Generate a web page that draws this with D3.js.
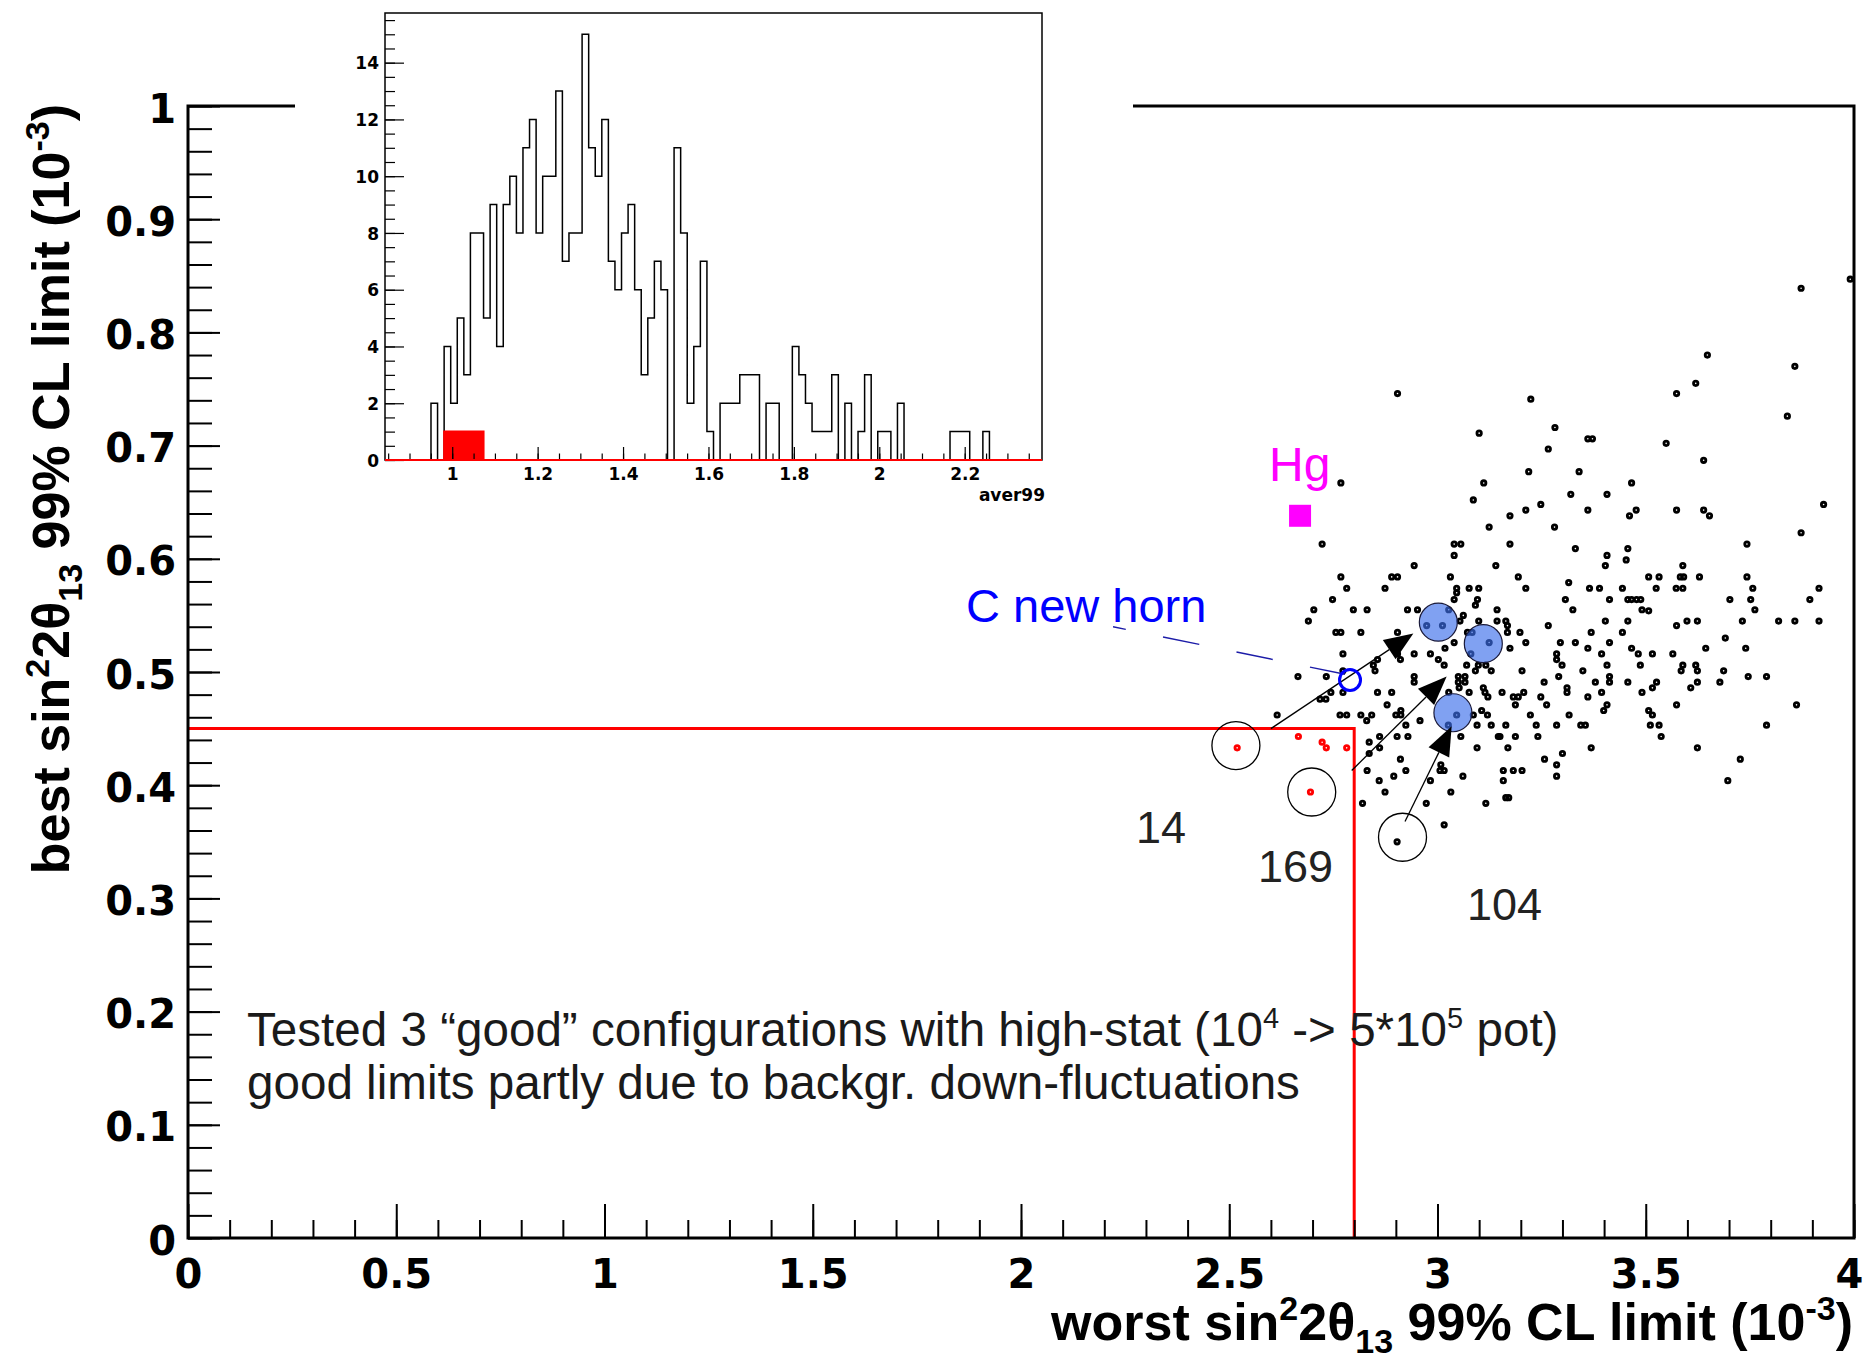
<!DOCTYPE html>
<html>
<head>
<meta charset="utf-8">
<title>worst vs best sin2 2theta13 limit</title>
<script src="https://cdn.jsdelivr.net/npm/d3@7"></script>
<style>
body { margin:0; background:#fff; }
</style>
</head>
<body>
<div id="chart"></div>
<script>
// each configuration: [worst limit, best limit], both in 1e-3
var configs = [
  [2.768,.667],[3.111,.667],[3.086,.652],[3.124,.628],[2.723,.613],[3.040,.613],[3.056,.613],[3.040,.603],[2.944,.594],[3.140,.594],
  [2.768,.584],[2.890,.584],[2.904,.584],[3.031,.584],[2.782,.574],[2.874,.574],[3.046,.574],[3.076,.574],[3.099,.574],[3.046,.570],
  [2.748,.564],[3.040,.564],[3.096,.564],[3.091,.559],[2.703,.555],[2.798,.555],[2.831,.555],[2.928,.555],[2.952,.555],[3.143,.555],
  [2.690,.545],[3.062,.550],[3.054,.545],[3.099,.545],[3.143,.545],[3.027,.555],[2.974,.541],[3.012,.541],[2.756,.535],[2.768,.535],
  [2.816,.535],[2.904,.535],[3.072,.535],[3.040,.526],[3.018,.521],[2.773,.516],[2.904,.516],[2.944,.516],[2.983,.516],[3.083,.535],
  [3.124,.526],[3.080,.516],[2.856,.511],[2.911,.511],[3.002,.511],[3.016,.506],[3.070,.506],[2.846,.506],[2.850,.501],[3.098,.506],
  [3.116,.506],[3.091,.501],[3.129,.501],[2.665,.496],[2.733,.496],[2.944,.496],[2.944,.491],[3.050,.496],[3.066,.496],[3.050,.491],
  [3.066,.491],[3.052,.486],[3.110,.486],[2.744,.482],[2.773,.482],[2.856,.482],[2.890,.482],[3.027,.482],[3.076,.482],[3.114,.482],
  [3.121,.478],[2.773,.501],[2.718,.476],[2.732,.476],
  [3.549,.702],[3.266,.697],[3.639,.687],[3.219,.677],[3.340,.677],[3.466,.667],[3.320,.657],[3.407,.657],[3.248,.648],[3.212,.643],
  [3.361,.643],[3.477,.643],[3.461,.638],[3.574,.643],[3.639,.643],[3.653,.638],[3.174,.638],[3.281,.628],[3.174,.613],[3.743,.613],
  [3.331,.609],[3.457,.609],[3.407,.603],[3.453,.599],[3.403,.594],[3.589,.594],[3.194,.584],[3.507,.584],[3.532,.584],[3.583,.584],
  [3.591,.584],[3.629,.584],[3.743,.584],[3.315,.579],[3.212,.574],[3.365,.574],[3.389,.574],[3.444,.574],[3.525,.574],[3.573,.574],
  [3.589,.574],[3.307,.564],[3.413,.564],[3.457,.564],[3.466,.564],[3.478,.564],[3.488,.564],[3.702,.564],[3.325,.555],[3.491,.555],
  [3.507,.554],[3.403,.545],[3.457,.545],[3.599,.545],[3.624,.545],[3.732,.545],[3.266,.541],[3.574,.541],[3.164,.545],[3.168,.541],
  [3.168,.535],[3.198,.535],[3.369,.535],[3.444,.535],[3.691,.530],[3.212,.526],[3.295,.526],[3.331,.526],[3.413,.526],[3.174,.521],
  [3.361,.521],[3.466,.521],[3.644,.521],[3.740,.521],[3.286,.516],[3.394,.516],[3.482,.516],[3.516,.516],[3.565,.516],[3.286,.511],
  [3.299,.506],[3.407,.506],[3.487,.506],[3.589,.506],[3.620,.506],[3.203,.501],[3.349,.501],[3.585,.501],[3.624,.501],[3.687,.501],
  [3.291,.496],[3.413,.496],[3.746,.496],[3.256,.491],[3.379,.491],[3.413,.491],[3.457,.491],[3.526,.491],[3.624,.491],[3.678,.491],
  [3.311,.486],[3.311,.482],[3.516,.486],[3.608,.486],[3.155,.482],[3.207,.482],[3.394,.482],[3.491,.482],[3.182,.478],[3.194,.478],
  [3.248,.478],[3.361,.478],
  [3.187,.471],[3.262,.471],[3.407,.471],[3.399,.466],[3.507,.466],[3.516,.462],[3.574,.471],[3.862,.471],[3.223,.462],[3.316,.462],
  [3.164,.453],[3.237,.453],[3.286,.453],[3.344,.453],[3.355,.453],[3.511,.453],[3.532,.453],[3.790,.453],[3.150,.443],[3.187,.443],
  [3.241,.443],[3.537,.443],[3.169,.433],[3.369,.433],[3.624,.433],[3.300,.428],[3.257,.423],[3.727,.423],[3.286,.418],[3.158,.413],
  [3.182,.413],[3.203,.413],[3.286,.408],[3.158,.404],[3.697,.404],[3.164,.389],[3.171,.389],
  [3.991,.847],[3.873,.839],[3.648,.780],[3.858,.770],[3.840,.726],[3.927,.648],[3.873,.623],[3.757,.574],[3.916,.574],[3.752,.564],
  [3.894,.564],[3.762,.555],[3.819,.545],[3.858,.545],[3.916,.545],[3.790,.496],
  [2.904,.746],[3.224,.741],[3.574,.746],[3.620,.755],[3.100,.711],[3.282,.716],[3.361,.706],[3.372,.706],
  [2.615,.462],[2.766,.462],[2.782,.462],[2.816,.462],[2.830,.457],[2.842,.462],[2.879,.471],[2.900,.462],[2.912,.462],[2.912,.466],
  [2.958,.457],[2.924,.453],[2.861,.443],[2.903,.443],[2.929,.443],[2.836,.438],[2.861,.433],[2.836,.428],[2.911,.423],[2.831,.413],
  [2.924,.413],[2.895,.408],[2.860,.404],[2.874,.394],[2.820,.384],[2.973,.384],[2.983,.404],[3.008,.418],[3.006,.413],[3.016,.413],
  [3.032,.394],[3.061,.408],[3.016,.365],[3.116,.384],[2.903,.350],[3.056,.443],[3.095,.433],[3.095,.453],[3.129,.453],[3.120,.462],
  [3.106,.466],[3.086,.462],[3.146,.443],[3.046,.462],[3.026,.453]
];
// configurations inside the cut (drawn red)
var passing = [[2.519,.433],[2.666,.443],[2.723,.438],[2.733,.433],[2.782,.433],[2.695,.394]];
var cutWorst = 2.8, cutBest = 0.45;

var hgPoint = [2.670, 0.638];
var newHorn = [2.790, 0.493];
var hornLink = [[2.221, 0.540], [2.778, 0.498]];
var highStat = [[3.002, 0.544], [3.110, 0.525], [3.037, 0.464]];
var circled = [[2.516, 0.435], [2.698, 0.394], [2.916, 0.354]];
var circledIds = ["14", "169", "104"];
var arrows = [
  [[2.600, 0.450], [2.942, 0.534]],
  [[2.794, 0.413], [3.022, 0.496]],
  [[2.922, 0.368], [3.034, 0.452]]
];

var xTickValues = [0, 0.5, 1, 1.5, 2, 2.5, 3, 3.5, 4];
var yTickValues = [0, 0.1, 0.2, 0.3, 0.4, 0.5, 0.6, 0.7, 0.8, 0.9, 1];

// inset: aver99 histogram, 100 bins
var histMin = 0.8426, histMax = 2.381;
var histCounts = [
  0,0,0,0,0,0,0,2,0,4, 2,5,3,8,8,5,9,4,9,10, 8,11,12,8,10,10,13,7,8,8,
  15,11,10,12,7,6,8,9,6,3, 5,7,6,0,11,8,2,4,7,1, 0,2,2,2,3,3,3,0,2,2,
  0,0,4,3,2,1,1,1,3,0, 2,0,1,3,0,1,1,0,2,0, 0,0,0,0,0,0,1,1,1,0,
  0,1,0,0,0,0,0,0,0,0
];
var histSelected = [
  0,0,0,0,0,0,0,0,0,1, 1,1,1,1,1,0,0,0,0,0, 0,0,0,0,0,0,0,0,0,0,
  0,0,0,0,0,0,0,0,0,0, 0,0,0,0,0,0,0,0,0,0, 0,0,0,0,0,0,0,0,0,0,
  0,0,0,0,0,0,0,0,0,0, 0,0,0,0,0,0,0,0,0,0, 0,0,0,0,0,0,0,0,0,0,
  0,0,0,0,0,0,0,0,0,0
];
var histXTicks = [1, 1.2, 1.4, 1.6, 1.8, 2, 2.2];
var histYTicks = [0, 2, 4, 6, 8, 10, 12, 14];

var w = 1866, h = 1363;
var textFont = "'Liberation Sans', Arial, Helvetica, sans-serif";
var numFont = "'DejaVu Sans', sans-serif";

var svg = d3.select("#chart").append("svg")
    .attr("width", w).attr("height", h);

var x = d3.scaleLinear().domain([0, 4]).range([188, 1854]);
var y = d3.scaleLinear().domain([0, 1]).range([1238, 106]);

function fmt(d) { return String(+d.toFixed(2)); }

function addRich(sel, parts, base, small) {
  var cur = 0;
  parts.forEach(function(p) {
    var target = p[1] === "sup" ? -0.38 * base : (p[1] === "sub" ? 0.25 * base : 0);
    var ts = sel.append("tspan").text(p[0]).attr("dy", target - cur);
    if (p[1]) ts.attr("font-size", small);
    cur = target;
  });
}

// cut lines
svg.append("path")
   .attr("d", "M" + x(0) + "," + y(cutBest) + "H" + x(cutWorst) + "V" + y(0))
   .attr("fill", "none").attr("stroke", "#ff0000").attr("stroke-width", 3);

// minor ticks
svg.append("g").attr("transform", "translate(0,1238)")
   .call(d3.axisBottom(x).tickValues(d3.range(0, 4.001, 0.1)).tickSize(-18).tickFormat(""))
   .call(function(g) { g.select(".domain").remove(); g.selectAll("line").attr("stroke-width", 2); });
svg.append("g").attr("transform", "translate(188,0)")
   .call(d3.axisLeft(y).tickValues(d3.range(0, 1.001, 0.02)).tickSize(-24).tickFormat(""))
   .call(function(g) { g.select(".domain").remove(); g.selectAll("line").attr("stroke-width", 2); });

// major ticks + labels
svg.append("g").attr("transform", "translate(0,1238)")
   .call(d3.axisBottom(x).tickValues(xTickValues).tickSize(-34).tickFormat(fmt))
   .call(function(g) {
     g.select(".domain").remove();
     g.attr("font-family", numFont).attr("font-size", 40).attr("font-weight", "bold");
     g.selectAll("line").attr("stroke-width", 2);
     g.selectAll("text").attr("y", 50).attr("dy", null)
      .attr("dx", function(d) { return d === 4 ? -5 : null; });
   });
svg.append("g").attr("transform", "translate(188,0)")
   .call(d3.axisLeft(y).tickValues(yTickValues).tickSize(-32).tickPadding(12).tickFormat(fmt))
   .call(function(g) {
     g.select(".domain").remove();
     g.attr("font-family", numFont).attr("font-size", 40).attr("font-weight", "bold");
     g.selectAll("line").attr("stroke-width", 2);
     g.selectAll("text").attr("dy", "0.4em");
   });

// frame
svg.append("rect")
   .attr("x", x(0)).attr("y", y(1))
   .attr("width", x(4) - x(0)).attr("height", y(0) - y(1))
   .attr("fill", "none").attr("stroke", "#000").attr("stroke-width", 3);

// axis titles
var xt = svg.append("text")
   .attr("x", 1853).attr("y", 1340).attr("text-anchor", "end")
   .attr("font-family", textFont).attr("font-weight", "bold").attr("font-size", 52);
addRich(xt, [["worst sin"], ["2", "sup"], ["2\u03b8"], ["13", "sub"], [" 99% CL limit (10"], ["-3", "sup"], [")"]], 52, 34);

var yt = svg.append("text")
   .attr("transform", "translate(69,104) rotate(-90)").attr("text-anchor", "end")
   .attr("font-family", textFont).attr("font-weight", "bold").attr("font-size", 52);
addRich(yt, [["best sin"], ["2", "sup"], ["2\u03b8"], ["13", "sub"], [" 99% CL limit (10"], ["-3", "sup"], [")"]], 52, 34);

// scatter
svg.append("g").selectAll("circle").data(configs).join("circle")
   .attr("cx", function(d) { return x(d[0]); })
   .attr("cy", function(d) { return y(d[1]); })
   .attr("r", 2.2).attr("fill", "none").attr("stroke", "#000").attr("stroke-width", 2.8);

svg.append("g").selectAll("circle").data(passing).join("circle")
   .attr("cx", function(d) { return x(d[0]); })
   .attr("cy", function(d) { return y(d[1]); })
   .attr("r", 2.2).attr("fill", "none").attr("stroke", "#ff0000").attr("stroke-width", 2.8);

// high-stat results
svg.append("g").selectAll("circle").data(highStat).join("circle")
   .attr("cx", function(d) { return x(d[0]); })
   .attr("cy", function(d) { return y(d[1]); })
   .attr("r", 19)
   .attr("fill", "rgb(60,110,235)").attr("fill-opacity", 0.65)
   .attr("stroke", "#1a1a3a").attr("stroke-width", 1.2);

svg.append("g").selectAll("circle").data(circled).join("circle")
   .attr("cx", function(d) { return x(d[0]); })
   .attr("cy", function(d) { return y(d[1]); })
   .attr("r", 24).attr("fill", "none").attr("stroke", "#000").attr("stroke-width", 1.3);

// arrows
var ag = svg.append("g");
arrows.forEach(function(a) {
  var x1 = x(a[0][0]), y1 = y(a[0][1]), x2 = x(a[1][0]), y2 = y(a[1][1]);
  var len = Math.hypot(x2 - x1, y2 - y1), ux = (x2 - x1) / len, uy = (y2 - y1) / len;
  var bx = x2 - ux * 29, by = y2 - uy * 29;
  ag.append("line").attr("x1", x1).attr("y1", y1).attr("x2", bx).attr("y2", by)
    .attr("stroke", "#000").attr("stroke-width", 1.3);
  ag.append("path")
    .attr("d", "M" + x2 + "," + y2 + "L" + (bx - uy * 11.5) + "," + (by + ux * 11.5) +
               "L" + (bx + uy * 11.5) + "," + (by - ux * 11.5) + "Z")
    .attr("fill", "#000");
});

// C new horn
svg.append("line")
   .attr("x1", x(hornLink[0][0])).attr("y1", y(hornLink[0][1]))
   .attr("x2", x(hornLink[1][0])).attr("y2", y(hornLink[1][1]))
   .attr("stroke", "#1c1ca8").attr("stroke-width", 1.4)
   .attr("stroke-dasharray", "37,38").attr("stroke-dashoffset", 24);
svg.append("circle")
   .attr("cx", x(newHorn[0])).attr("cy", y(newHorn[1])).attr("r", 10.5)
   .attr("fill", "none").attr("stroke", "#0000ff").attr("stroke-width", 3);
svg.append("text").attr("x", 966).attr("y", 622)
   .attr("font-family", textFont).attr("font-size", 47).attr("fill", "#0000ff")
   .text("C new horn");

// Hg
svg.append("rect")
   .attr("x", x(hgPoint[0]) - 11).attr("y", y(hgPoint[1]) - 11)
   .attr("width", 22).attr("height", 22).attr("fill", "#ff00ff");
svg.append("text").attr("x", 1269).attr("y", 481)
   .attr("font-family", textFont).attr("font-size", 48).attr("fill", "#ff00ff")
   .text("Hg");

// config ids
var idPos = [[1136, 843], [1258, 882], [1467, 920]];
svg.append("g").selectAll("text").data(circledIds).join("text")
   .attr("x", function(d, i) { return idPos[i][0]; })
   .attr("y", function(d, i) { return idPos[i][1]; })
   .attr("font-family", textFont).attr("font-size", 45).attr("fill", "#222")
   .text(function(d) { return d; });

// note
var n1 = svg.append("text").attr("x", 247).attr("y", 1046)
   .attr("font-family", textFont).attr("font-size", 47.6).attr("fill", "#1a1a1a");
addRich(n1, [["Tested 3 \u201cgood\u201d configurations with high-stat (10"], ["4", "sup"], [" -> 5*10"], ["5", "sup"], [" pot)"]], 47.6, 29);
svg.append("text").attr("x", 247).attr("y", 1099)
   .attr("font-family", textFont).attr("font-size", 47.6).attr("fill", "#1a1a1a")
   .text("good limits partly due to backgr. down-fluctuations");

// ---- inset histogram ----
var inset = svg.append("g");
inset.append("rect").attr("x", 295).attr("y", 0).attr("width", 838).attr("height", 505).attr("fill", "#fff");

var hx = d3.scaleLinear().domain([histMin, histMax]).range([385, 1042]);
var hy = d3.scaleLinear().domain([0, 15.75]).range([460, 13]);
var binW = (histMax - histMin) / histCounts.length;

function stepData(counts) {
  var pts = [{e: histMin, c: 0}];
  counts.forEach(function(c, i) { pts.push({e: histMin + i * binW, c: c}); });
  pts.push({e: histMax, c: counts[counts.length - 1]});
  pts.push({e: histMax, c: 0});
  return pts;
}

inset.append("path")
   .attr("d", d3.line().curve(d3.curveStepAfter)
       .x(function(d) { return hx(d.e); }).y(function(d) { return hy(d.c); })(stepData(histCounts)))
   .attr("fill", "none").attr("stroke", "#000").attr("stroke-width", 1.5);

inset.append("path")
   .attr("d", d3.area().curve(d3.curveStepAfter)
       .x(function(d) { return hx(d.e); }).y0(hy(0)).y1(function(d) { return hy(d.c); })(stepData(histSelected)))
   .attr("fill", "#ff0000").attr("stroke", "#ff0000").attr("stroke-width", 2);

inset.append("g").attr("transform", "translate(0,460)")
   .call(d3.axisBottom(hx).tickValues(d3.range(0.85, 2.38, 0.05)).tickSize(-6.5).tickFormat(""))
   .call(function(g) { g.select(".domain").remove(); g.selectAll("line").attr("stroke-width", 1.2); });
inset.append("g").attr("transform", "translate(385,0)")
   .call(d3.axisLeft(hy).tickValues(d3.range(0, 15.6, 0.5)).tickSize(-10).tickFormat(""))
   .call(function(g) { g.select(".domain").remove(); g.selectAll("line").attr("stroke-width", 1.2); });

inset.append("g").attr("transform", "translate(0,460)")
   .call(d3.axisBottom(hx).tickValues(histXTicks).tickSize(-13).tickFormat(fmt))
   .call(function(g) {
     g.select(".domain").remove();
     g.attr("font-family", numFont).attr("font-size", 17).attr("font-weight", "bold");
     g.selectAll("line").attr("stroke-width", 1.2);
     g.selectAll("text").attr("y", 20).attr("dy", null);
   });
inset.append("g").attr("transform", "translate(385,0)")
   .call(d3.axisLeft(hy).tickValues(histYTicks).tickSize(-19).tickPadding(6).tickFormat(fmt))
   .call(function(g) {
     g.select(".domain").remove();
     g.attr("font-family", numFont).attr("font-size", 17).attr("font-weight", "bold");
     g.selectAll("line").attr("stroke-width", 1.2);
     g.selectAll("text").attr("dy", "0.36em");
   });

inset.append("rect").attr("x", 385).attr("y", 13).attr("width", 657).attr("height", 447)
   .attr("fill", "none").attr("stroke", "#000").attr("stroke-width", 1.5);
inset.append("line").attr("x1", 385).attr("x2", 1042).attr("y1", 460).attr("y2", 460)
   .attr("stroke", "#ff0000").attr("stroke-width", 2);

inset.append("text").attr("x", 1045).attr("y", 501).attr("text-anchor", "end")
   .attr("font-family", numFont).attr("font-size", 17).attr("font-weight", "bold")
   .text("aver99");
</script>
</body>
</html>
